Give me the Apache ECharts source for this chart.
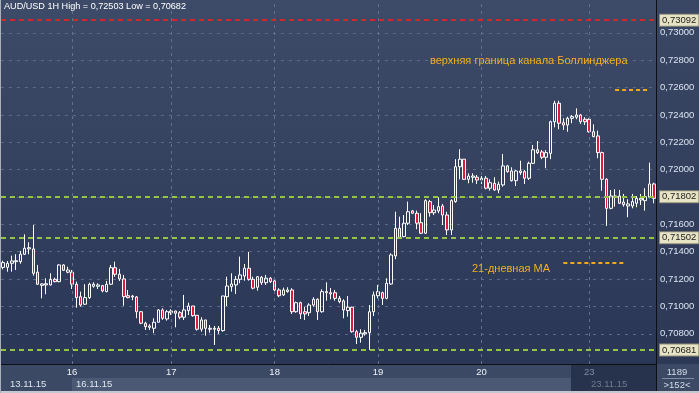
<!DOCTYPE html>
<html><head><meta charset="utf-8">
<script src="https://cdn.jsdelivr.net/npm/echarts@6/dist/echarts.min.js"></script>
<style>html,body{margin:0;padding:0;background:#2e3b58;}#c{width:699px;height:393px;}</style>
</head><body><div id="c"></div>
<script>
// ---- data: [open, high, low, close] per hourly bar ----
const day13 = [
 [0.71285,0.71334,0.71271,0.71320],[0.71286,0.71332,0.71254,0.71315],[0.71315,0.71371,0.71254,0.71332],
 [0.71327,0.71381,0.71266,0.71334],[0.71327,0.71405,0.71312,0.71381],[0.71381,0.71527,0.71376,0.71425],
 [0.71420,0.71469,0.71381,0.71429],[0.71420,0.71595,0.71225,0.71242],[0.71250,0.71303,0.71157,0.71162],
 [0.71154,0.71169,0.71059,0.71164],[0.71157,0.71206,0.71089,0.71166],[0.71157,0.71242,0.71152,0.71198],
 [0.71198,0.71210,0.71176,0.71181],[0.71181,0.71308,0.71176,0.71303],[0.71303,0.71308,0.71259,0.71264],
 [0.71250,0.71290,0.71242,0.71266]];
const day16 = [
 [0.71250,0.71266,0.71127,0.71162],[0.71162,0.71181,0.70991,0.71064],[0.71071,0.71108,0.70998,0.71010],
 [0.71016,0.71162,0.71010,0.71064],[0.71064,0.71173,0.71054,0.71162],[0.71147,0.71176,0.71137,0.71162],
 [0.71147,0.71169,0.71127,0.71157],[0.71152,0.71157,0.71103,0.71113],[0.71108,0.71186,0.71103,0.71162],
 [0.71162,0.71303,0.71157,0.71283],[0.71283,0.71327,0.71217,0.71235],[0.71235,0.71274,0.71186,0.71201],
 [0.71201,0.71230,0.71005,0.71071],[0.71078,0.71120,0.71059,0.71064],[0.71069,0.71084,0.71045,0.71076],
 [0.71069,0.71076,0.70913,0.70961],[0.70961,0.70966,0.70870,0.70877],[0.70877,0.70888,0.70828,0.70852],
 [0.70847,0.70870,0.70828,0.70857],[0.70840,0.70913,0.70804,0.70884],[0.70884,0.70981,0.70884,0.70974],
 [0.70974,0.70986,0.70901,0.70913],[0.70908,0.70974,0.70896,0.70961]];
const day17 = [
 [0.70954,0.70979,0.70937,0.70966],[0.70966,0.70969,0.70847,0.70950],[0.70954,0.70966,0.70906,0.70921],
 [0.70921,0.71084,0.70901,0.70974],[0.70969,0.71027,0.70937,0.71003],[0.71003,0.71003,0.70925,0.70932],
 [0.70935,0.70935,0.70823,0.70833],[0.70833,0.70921,0.70815,0.70901],[0.70901,0.70901,0.70786,0.70840],
 [0.70833,0.70864,0.70808,0.70840],[0.70833,0.70857,0.70718,0.70840],[0.70840,0.70857,0.70799,0.70823],
 [0.70823,0.71076,0.70815,0.71076],[0.71071,0.71217,0.71003,0.71149],[0.71144,0.71242,0.71108,0.71164],
 [0.71157,0.71222,0.71091,0.71198],[0.71198,0.71364,0.71169,0.71230],[0.71222,0.71310,0.71188,0.71279],
 [0.71279,0.71398,0.71188,0.71198],[0.71198,0.71217,0.71125,0.71133],[0.71140,0.71222,0.71115,0.71217],
 [0.71213,0.71222,0.71157,0.71173],[0.71173,0.71230,0.71157,0.71206],[0.71206,0.71215,0.71171,0.71181]];
const day18 = [
 [0.71186,0.71193,0.71108,0.71120],[0.71120,0.71133,0.71067,0.71078],[0.71084,0.71137,0.71076,0.71120],
 [0.71108,0.71140,0.71100,0.71120],[0.71120,0.71133,0.70945,0.70961],[0.70961,0.71035,0.70954,0.71027],
 [0.71027,0.71035,0.70908,0.70945],[0.70961,0.70998,0.70901,0.70945],[0.70954,0.71023,0.70930,0.71010],
 [0.71010,0.71067,0.70998,0.71052],[0.71052,0.71059,0.70901,0.70961],[0.70961,0.71125,0.70954,0.71108],
 [0.71100,0.71176,0.71042,0.71108],[0.71091,0.71135,0.71052,0.71100],[0.71100,0.71120,0.71042,0.71059],
 [0.71059,0.71076,0.71023,0.71035],[0.71040,0.71052,0.70913,0.70974],[0.70969,0.71076,0.70925,0.70994],
 [0.70994,0.70998,0.70808,0.70815],[0.70815,0.70828,0.70725,0.70774],[0.70774,0.70833,0.70735,0.70804],
 [0.70799,0.70828,0.70786,0.70808],[0.70808,0.71010,0.70682,0.70961],[0.70961,0.71108,0.70930,0.71084]];
const day19 = [
 [0.71078,0.71157,0.71059,0.71108],[0.71100,0.71108,0.71010,0.71059],[0.71059,0.71206,0.71052,0.71169],
 [0.71164,0.71388,0.71157,0.71376],[0.71369,0.71692,0.71345,0.71571],[0.71571,0.71656,0.71498,0.71505],
 [0.71510,0.71668,0.71505,0.71608],[0.71608,0.71766,0.71595,0.71692],[0.71698,0.71705,0.71676,0.71681],
 [0.71681,0.71700,0.71564,0.71608],[0.71612,0.71681,0.71530,0.71535],[0.71535,0.71783,0.71530,0.71773],
 [0.71766,0.71778,0.71656,0.71685],[0.71685,0.71741,0.71668,0.71705],[0.71698,0.71798,0.71681,0.71729],
 [0.71734,0.71749,0.71595,0.71668],[0.71668,0.71692,0.71522,0.71559],[0.71559,0.71783,0.71522,0.71773],
 [0.71766,0.72076,0.71758,0.72021],[0.72021,0.72149,0.71929,0.72076],[0.72076,0.72076,0.71924,0.71929],
 [0.71929,0.71973,0.71900,0.71953],[0.71944,0.71973,0.71904,0.71953],[0.71944,0.71961,0.71895,0.71924]];
const day20 = [
 [0.71924,0.71953,0.71895,0.71937],[0.71937,0.71953,0.71856,0.71864],[0.71864,0.71929,0.71846,0.71904],
 [0.71900,0.71944,0.71846,0.71851],[0.71851,0.71912,0.71827,0.71893],[0.71888,0.72114,0.71875,0.72027],
 [0.72027,0.72034,0.71978,0.71985],[0.71990,0.72017,0.71912,0.71919],[0.71919,0.71997,0.71880,0.71990],
 [0.71978,0.72065,0.71961,0.71990],[0.71985,0.71997,0.71895,0.71937],[0.71937,0.72058,0.71924,0.72046],
 [0.72046,0.72180,0.72041,0.72145],[0.72145,0.72209,0.72114,0.72124],[0.72129,0.72143,0.72076,0.72090],
 [0.72090,0.72143,0.72010,0.72124],[0.72119,0.72358,0.72076,0.72350],[0.72350,0.72503,0.72309,0.72485],
 [0.72485,0.72503,0.72295,0.72339],[0.72343,0.72375,0.72290,0.72326],[0.72326,0.72387,0.72277,0.72375],
 [0.72375,0.72399,0.72339,0.72387],[0.72383,0.72448,0.72368,0.72399],[0.72399,0.72407,0.72334,0.72350],
 [0.72368,0.72383,0.72326,0.72350]];
const day23 = [
 [0.72368,0.72375,0.72270,0.72277],[0.72277,0.72331,0.72236,0.72241],[0.72246,0.72285,0.72083,0.72124],
 [0.72124,0.72131,0.71846,0.71929],[0.71929,0.71937,0.71588,0.71717],[0.71717,0.71851,0.71710,0.71807],
 [0.71798,0.71856,0.71729,0.71807],[0.71807,0.71851,0.71749,0.71754],[0.71763,0.71822,0.71729,0.71744],
 [0.71734,0.71783,0.71652,0.71749],[0.71734,0.71822,0.71717,0.71766],[0.71754,0.71807,0.71725,0.71790],
 [0.71778,0.71822,0.71741,0.71790],[0.71773,0.71864,0.71700,0.71802],[0.71798,0.72051,0.71790,0.71895],
 [0.71895,0.71904,0.71754,0.71790]];

const dayLabels = ['16','17','18','19','20','23'];
const dayStartIdx = [16, 39, 63, 87, 111, 136];
const dateLabels = ['13.11.15', '16.11.15', '23.11.15'];
const yTicks = [0.708,0.710,0.712,0.714,0.716,0.718,0.720,0.722,0.724,0.726,0.728,0.730];
const yRange = [0.705789, 0.732398];
const resistanceLevel = 0.73092;
const supportLevels = [0.71802, 0.71502, 0.70681];
const bollingerUpper = {text: 'верхняя граница канала Боллинджера', value: 0.72582, from: 142, to: 150};
const ma21 = {text: '21-дневная MA', value: 0.71317, from: 130, to: 144};
const titleText = 'AUD/USD 1H High = 0,72503 Low = 0,70682';
const infoTexts = ['1189', '>152<'];

// ---- build ----
const bars = [].concat(day13, day16, day17, day18, day19, day20, day23);
const categories = bars.map((_, i) => String(i));
const candleData = bars.map(b => [b[0], b[3], b[2], b[1]]);
const fmt = v => v.toFixed(5).replace('.', ',');
const FONT = 'Liberation Sans, Arial, sans-serif';

const boxLabel = (txt) => ({
  show: true, position: 'end', distance: 4, formatter: txt,
  color: '#1c1c1c', backgroundColor: '#e7e4c6', borderColor: '#8d8b78', borderWidth: 1,
  padding: [1, 2, 0, 2], fontSize: 9.5, fontFamily: FONT
});

const markData = [];
dayStartIdx.forEach(i => markData.push({
  xAxis: categories[i], label: {show: false},
  lineStyle: {color: '#63718d', type: [3, 4], width: 1}
}));
markData.push({yAxis: resistanceLevel, label: boxLabel(fmt(resistanceLevel)),
  lineStyle: {color: '#cf2a2a', type: [5, 4], width: 2}});
supportLevels.forEach(v => markData.push({yAxis: v, label: boxLabel(fmt(v)),
  lineStyle: {color: '#93c540', type: [5, 4], width: 2}}));
[bollingerUpper, ma21].forEach(a => markData.push([
  {coord: [categories[a.from], a.value], lineStyle: {color: '#f2a81d', type: [4, 3], width: 2}, label: {show: false}},
  {coord: [categories[a.to], a.value]}
]));

const W = 699, H = 393, PR = 656, PB = 364;
const chart = echarts.init(document.getElementById('c'), null, {renderer: 'canvas'});
chart.setOption({
  animation: false,
  backgroundColor: 'transparent',
  grid: {left: 1, right: W - PR, top: 0, bottom: H - PB, containLabel: false},
  xAxis: {
    type: 'category', data: categories, boundaryGap: true,
    axisLine: {show: true, lineStyle: {color: '#0d0f14', width: 1}},
    axisTick: {show: false},
    splitLine: {show: false},
    axisLabel: {
      interval: (i) => dayStartIdx.indexOf(i) >= 0,
      formatter: (v, i) => {
        const k = dayStartIdx.indexOf(Number(v));
        if (k < 0) return '';
        return k === dayLabels.length - 1 ? '{g|' + dayLabels[k] + '}' : dayLabels[k];
      },
      rich: {g: {color: '#7f8aa0', fontSize: 9.5, fontFamily: FONT}},
      color: '#eef2f8', fontSize: 9.5, fontFamily: FONT, margin: 3
    }
  },
  yAxis: {
    type: 'value', position: 'right', min: yRange[0], max: yRange[1], scale: true,
    axisLine: {show: true, lineStyle: {color: '#0d0f14', width: 1}},
    axisTick: {show: false, customValues: yTicks},
    axisLabel: {customValues: yTicks, formatter: fmt, color: '#dce4f0', fontSize: 9.5,
      fontFamily: FONT, margin: 4},
    splitLine: {show: true, lineStyle: {color: '#5a6986', type: [3, 5], width: 1}}
  },
  series: [{
    type: 'candlestick', data: candleData, barWidth: 3,
    itemStyle: {color: 'rgba(0,0,0,0)', color0: '#e3173d', borderColor: '#ffffff',
      borderColor0: '#ffffff', borderWidth: 1},
    markLine: {silent: true, precision: 5, symbol: ['none', 'none'], animation: false, data: markData}
  }],
  graphic: [
    {type: 'rect', z: -100, shape: {x: 0, y: 0, width: PR, height: PB},
      style: {fill: new echarts.graphic.LinearGradient(0, 0, 0, 1, [
        {offset: 0, color: '#3e4b68'}, {offset: 1, color: '#2a3655'}])}},
    {type: 'rect', z: -100, shape: {x: PR, y: 0, width: W - PR, height: PB},
      style: {fill: new echarts.graphic.LinearGradient(0, 0, 0, 1, [
        {offset: 0, color: '#3a4764'}, {offset: 1, color: '#2c3856'}])}},
    {type: 'rect', z: -100, shape: {x: 0, y: PB, width: W, height: H - PB}, style: {fill: '#3b4965'}},
    {type: 'rect', z: -99, shape: {x: 72, y: 378, width: 499, height: 13}, style: {fill: '#4b5975'}},
    {type: 'rect', z: -98, shape: {x: 571, y: PB + 1, width: PR - 571, height: 26}, style: {fill: '#27324c'}},
    {type: 'rect', z: -97, shape: {x: 0, y: 391, width: W, height: 2}, style: {fill: '#c3c8d0'}},
    {type: 'rect', z: 50, shape: {x: 0, y: 0, width: 1, height: H}, style: {fill: '#a9b0bc'}},
    {type: 'line', z: 50, shape: {x1: PR + 0.5, y1: PB, x2: PR + 0.5, y2: 391}, style: {stroke: '#0d0f14', lineWidth: 1}},
    {type: 'line', z: 50, shape: {x1: 662, y1: 378.5, x2: 694, y2: 378.5}, style: {stroke: '#7f8ca3', lineWidth: 1}},
    {type: 'text', z: 50, style: {text: titleText, x: 4, y: 2, fill: '#ffffff', font: '9.1px ' + FONT}},
    {type: 'text', z: 50, style: {text: bollingerUpper.text, x: 430, y: 55, fill: '#f2b01e', font: '11px ' + FONT}},
    {type: 'text', z: 50, style: {text: ma21.text, x: 472, y: 263, fill: '#f2b01e', font: '11px ' + FONT}},
    {type: 'text', z: 50, style: {text: dateLabels[0], x: 10, y: 379, fill: '#dfe5ef', font: '9.5px ' + FONT}},
    {type: 'text', z: 50, style: {text: dateLabels[1], x: 76, y: 379, fill: '#dfe5ef', font: '9.5px ' + FONT}},
    {type: 'text', z: 50, style: {text: dateLabels[2], x: 591, y: 379, fill: '#6f7a90', font: '9.5px ' + FONT}},
    {type: 'text', z: 50, style: {text: infoTexts[0], x: 677, y: 367, align: 'center', fill: '#d4dbe7', font: '9.5px ' + FONT}},
    {type: 'text', z: 50, style: {text: infoTexts[1], x: 677, y: 380, align: 'center', fill: '#d4dbe7', font: '9.5px ' + FONT}}
  ]
});
</script></body></html>
